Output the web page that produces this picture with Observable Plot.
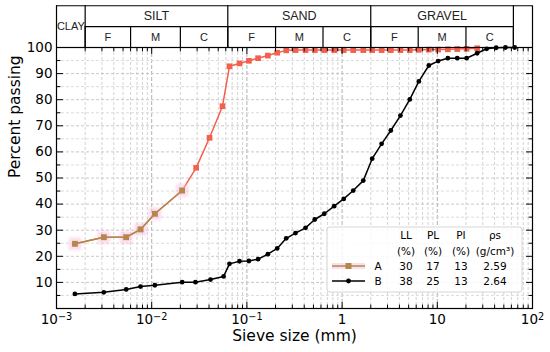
<!DOCTYPE html>
<html><head><meta charset="utf-8">
<script src="https://cdn.jsdelivr.net/npm/d3@7"></script>
<script src="https://cdn.jsdelivr.net/npm/@observablehq/plot@0.6"></script>
<style>body{margin:0;background:#fff;}</style>
</head><body><div id="chart"></div>
<script>
// ---- data ----
const sizeA = [0.00156,0.00314,0.0054,0.00763,0.0108,0.0209,0.0293,0.0405,0.0554,
  0.0656,0.0836,0.105,0.131,0.166,0.208,0.259,0.324,0.413,0.516,0.65,0.825,1.04,1.31,1.67,2.07,2.6,3.25,4.1,5.14,6.4,8.15,10.2,12.9,16.2,20.3,26.2];
const passA = [24.8,27.3,27.3,30.3,36.3,45.2,53.9,65.4,77.5,
  92.8,93.9,94.9,95.9,96.9,98.0,98.9,99.0,99.0,99.0,99.0,99.0,99.0,99.0,99.0,99.0,99.0,99.0,99.0,99.0,99.1,99.2,99.2,99.3,99.4,99.5,99.7];
const nTanA = 6; // first points of A drawn in tan with pink highlight
const sizeB = [0.00156,0.00314,0.0054,0.00763,0.0108,0.0209,0.0288,0.0415,0.0569,
  0.0656,0.0836,0.105,0.131,0.166,0.208,0.259,0.324,0.413,0.516,0.65,0.825,1.04,1.31,1.67,2.07,2.6,3.25,4.1,5.14,6.4,8.15,10.2,12.9,16.2,20.3,26.2,33,41.5,52,65];
const passB = [5.6,6.2,7.3,8.4,8.9,10.1,10.1,11.1,12.3,
  17.1,18.1,18.2,18.9,20.8,23.0,26.9,28.9,30.9,34.1,36.3,39.2,42.0,45.2,49.0,57.4,63.1,68.2,73.9,80.1,87.0,93.1,94.8,95.9,95.9,95.9,97.8,99.5,99.9,100,100];

const xTicks = [0.001,0.01,0.1,1,10,100];
const xTickBase = ["10","10","10","1","10","10"];
const xTickExp = ["−3","−2","−1","","","2"];
const yTicks = [10,20,30,40,50,60,70,80,90,100];
const yMinorTicks = [5,15,25,35,45,55,65,75,85,95];

const zoneLabels = ["CLAY","SILT","SAND","GRAVEL",""];
const zoneBounds = [0.001,0.002,0.063,2,63,100];
const subLabels = ["F","M","C","F","M","C","F","M","C"];
const subBounds = [0.002,0.006,0.02,0.063,0.2,0.63,2,6.3,20,63];

const soils = ["A","B"];
const LL = [30,38];
const PL = [17,25];
const PI = [13,13];
const rhoS = [2.59,2.64];
const legendHeads = ["LL","PL","PI","ρs"];
const legendUnits = ["(%)","(%)","(%)","(g/cm³)"];

// ---- build ----
const red = "#f2604e", tan = "#b3884c", pink = "#f6bfdc";
const dataA = sizeA.map((d,i)=>({d, p: passA[i]}));
const tanA = dataA.slice(0, nTanA);
const dataB = sizeB.map((d,i)=>({d, p: passB[i]}));
const minorX = [];
for (let e = -3; e < 2; e++) for (let k = 2; k < 10; k++) minorX.push(k * Math.pow(10, e));

const tickShape = {draw(ctx, l){ ctx.moveTo(0,0); ctx.lineTo(0,-l); }};
const tk = (data, o) => Plot.vector(data, {anchor:"start", shape: tickShape, stroke:"black", strokeWidth:1, ...o});

const zones = zoneLabels.map((l,i)=>({l, x: Math.sqrt(zoneBounds[i]*zoneBounds[i+1])}));
const subs = subLabels.map((l,i)=>({l, x: Math.sqrt(subBounds[i]*subBounds[i+1])}));

const plot = Plot.plot({
  width: 550, height: 352,
  marginTop: 47, marginLeft: 56, marginRight: 18, marginBottom: 44,
  style: {fontFamily: "DejaVu Sans", background: "white", color: "black"},
  x: {type: "log", domain: [1e-3, 1e2]},
  y: {domain: [0, 100]},
  marks: [
    Plot.gridX(minorX, {stroke: "#d4d4d4", strokeOpacity: 1, strokeDasharray: "3,2"}),
    Plot.gridX(xTicks, {stroke: "#b0b0b0", strokeOpacity: 1, strokeDasharray: "4,2"}),
    Plot.gridY(yMinorTicks, {stroke: "#dcdcdc", strokeOpacity: 1, strokeDasharray: "3,2"}),
    Plot.gridY(yTicks, {stroke: "#c8c8c8", strokeOpacity: 1, strokeDasharray: "3,2"}),
    Plot.axisX({ticks: xTicks, tickFormat: d => xTickBase[xTicks.indexOf(d)], tickSize: 0, tickPadding: 6, fontSize: 13.5, label: null}),
    Plot.axisY({ticks: yTicks, tickSize: 0, tickPadding: 4, fontSize: 13.5, label: null}),
    // series A
    Plot.line(dataA, {x: "d", y: "p", stroke: red, strokeWidth: 1.5}),
    Plot.dot(dataA, {x: "d", y: "p", symbol: "square", r: 3.2, fill: red}),
    Plot.dot(tanA, {x: "d", y: "p", symbol: "square", r: 7, fill: pink, fillOpacity: 0.55, imageFilter: "blur(1.5px)"}),
    Plot.line(tanA, {x: "d", y: "p", stroke: tan, strokeWidth: 1.5}),
    Plot.dot(tanA, {x: "d", y: "p", symbol: "square", r: 3.2, fill: tan}),
    // series B
    Plot.line(dataB, {x: "d", y: "p", stroke: "black", strokeWidth: 1.5}),
    Plot.dot(dataB, {x: "d", y: "p", r: 2.4, fill: "black"}),
    // ticks (inward, all four sides)
    tk(xTicks, {x: d => d, y: 0, length: 6, rotate: 0}),
    tk(minorX, {x: d => d, y: 0, length: 3.5, rotate: 0}),
    tk(xTicks, {x: d => d, y: 100, length: 6, rotate: 180}),
    tk(minorX, {x: d => d, y: 100, length: 3.5, rotate: 180}),
    tk(yTicks, {x: 1e-3, y: d => d, length: 6, rotate: 90}),
    tk(yMinorTicks, {x: 1e-3, y: d => d, length: 3.5, rotate: 90}),
    tk(yTicks, {x: 1e2, y: d => d, length: 6, rotate: -90}),
    tk(yMinorTicks, {x: 1e2, y: d => d, length: 3.5, rotate: -90}),
    Plot.frame({stroke: "black", strokeWidth: 1.2}),
    // classification header
    Plot.ruleY([116], {x1: 1e-3, x2: 1e2, stroke: "black", strokeWidth: 1.2}),
    Plot.ruleY([108], {x1: subBounds[0], x2: subBounds[subBounds.length-1], stroke: "black", strokeWidth: 1.2}),
    Plot.ruleX(zoneBounds, {y1: 100, y2: 116, stroke: "black", strokeWidth: 1.2}),
    Plot.ruleX(subBounds, {y1: 100, y2: 108, stroke: "black", strokeWidth: 1.2}),
    Plot.text(zones.slice(1,4), {x: "x", y: 112, text: "l", fontSize: 12.5, fontFamily: "Liberation Sans", fill: "#222"}),
    Plot.text(zones.slice(0,1), {x: "x", y: 108, text: "l", fontSize: 11, fontFamily: "Liberation Sans", fill: "#222"}),
    Plot.text(subs, {x: "x", y: 104, text: "l", fontSize: 11, fontFamily: "Liberation Sans", fill: "#222"}),
    // axis titles
    Plot.text(["Percent passing"], {frameAnchor: "left", dx: -41, rotate: -90, text: d => d, fontSize: 15.5}),
    Plot.text(["Sieve size (mm)"], {frameAnchor: "bottom", dy: 32, text: d => d, fontSize: 15.5})
  ]
});
document.getElementById("chart").appendChild(plot);

// ---- superscript exponents on x tick labels (like 10^-3) ----
const svg = d3.select(plot);
svg.selectAll("g[aria-label='x-axis tick label'] text").each(function() {
  const t = d3.select(this);
  const i = xTickBase.indexOf(t.text()) >= 0 ? null : null;
});
{
  const texts = svg.selectAll("g[aria-label='x-axis tick label'] text").nodes();
  texts.forEach((node, i) => {
    const exp = xTickExp[i];
    if (exp) {
      d3.select(node).append("tspan").attr("dy", "-0.45em").attr("font-size", "0.72em").text(exp);
    }
  });
}

// ---- legend table (inside the plot, lower right) ----
const g = svg.append("g").attr("font-family", "DejaVu Sans").attr("font-size", 10.5).attr("text-anchor", "middle");
g.append("rect").attr("x", 327).attr("y", 227).attr("width", 195).attr("height", 65).attr("rx", 3)
  .attr("fill", "white").attr("fill-opacity", 0.85).attr("stroke", "#d6d6d6");
const colX = [406, 433, 461, 495];
legendHeads.forEach((t,i)=>g.append("text").attr("x", colX[i]).attr("y", 235).attr("dy", "0.35em").text(t));
legendUnits.forEach((t,i)=>g.append("text").attr("x", colX[i]).attr("y", 251).attr("dy", "0.35em").text(t));
const rowY = [266, 281];
soils.forEach((s,j)=>{
  const y = rowY[j];
  if (j === 0) {
    g.append("rect").attr("x", 332).attr("y", y-3).attr("width", 33).attr("height", 6).attr("fill", pink).attr("fill-opacity", 0.5);
    g.append("line").attr("x1", 332).attr("x2", 365).attr("y1", y).attr("y2", y).attr("stroke", tan).attr("stroke-width", 1.5);
    g.append("rect").attr("x", 345.5).attr("y", y-3).attr("width", 6).attr("height", 6).attr("fill", tan);
  } else {
    g.append("line").attr("x1", 332).attr("x2", 365).attr("y1", y).attr("y2", y).attr("stroke", "black").attr("stroke-width", 1.5);
    g.append("circle").attr("cx", 348.5).attr("cy", y).attr("r", 2.4).attr("fill", "black");
  }
  g.append("text").attr("x", 378).attr("y", y).attr("dy", "0.35em").text(s);
  [LL[j], PL[j], PI[j], rhoS[j].toFixed(2)].forEach((v,i)=>g.append("text").attr("x", colX[i]).attr("y", y).attr("dy", "0.35em").text(v));
});
</script>
</body></html>
